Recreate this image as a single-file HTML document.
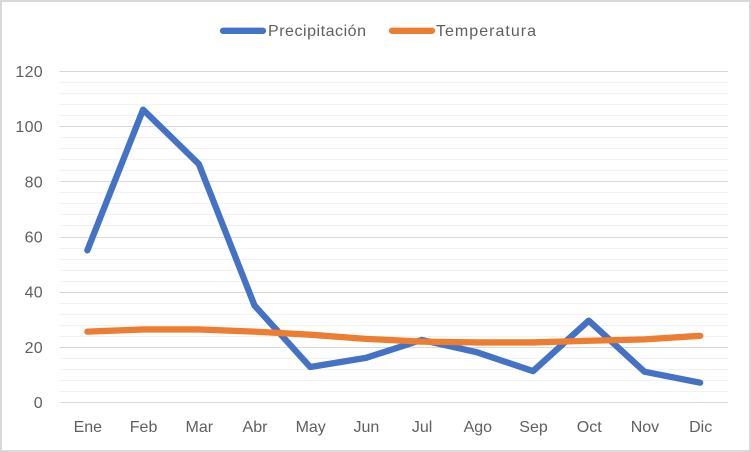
<!DOCTYPE html>
<html lang="es">
<head>
<meta charset="utf-8">
<title>Precipitación y Temperatura</title>
<style>
html,body{margin:0;padding:0;background:#fff;}
body{width:751px;height:452px;overflow:hidden;}
svg{display:block;}
text{font-family:"Liberation Sans",sans-serif;fill:#5f5f5f;font-size:16px;}
</style>
</head>
<body>
<svg id="chart" width="751" height="452" viewBox="0 0 751 452" xmlns="http://www.w3.org/2000/svg"></svg>
<script>
const categories = ["Ene","Feb","Mar","Abr","May","Jun","Jul","Ago","Sep","Oct","Nov","Dic"];
const precipitacion = [55,106,86.3,35,12.7,16,22.5,18,11.2,29.5,11,7];
const temperatura = [25.5,26.3,26.3,25.5,24.4,22.9,21.9,21.6,21.6,22.2,22.7,24];
const yTicks = [0,20,40,60,80,100,120];
const yMinorTicks = [4,8,12,16,24,28,32,36,44,48,52,56,64,68,72,76,84,88,92,96,104,108,112,116];

const NS = "http://www.w3.org/2000/svg";
const svg = document.getElementById("chart");
const plotLeft = 59.5, plotRight = 728, plotTop = 71, plotBottom = 402, yMax = 120;
const xScale = i => plotLeft + (i + 0.5) * (plotRight - plotLeft) / categories.length;
const yScale = v => plotBottom - (v / yMax) * (plotBottom - plotTop);

function make(tag, attrs, parent) {
  const el = document.createElementNS(NS, tag);
  for (const k in attrs) el.setAttribute(k, attrs[k]);
  (parent || svg).appendChild(el);
  return el;
}

const frame = make("rect", {x:1, y:1, width:749, height:450, fill:"#ffffff", stroke:"#d9d9d9", "stroke-width":2});



yMinorTicks.forEach(t => {
  const y = Math.round(yScale(t)) + 0.5;
  const g = make("line", {x1:plotLeft, x2:plotRight, y1:y, y2:y, stroke:"#f2f2f2", "stroke-width":1});
  
  
});
yTicks.forEach(t => {
  const y = Math.round(yScale(t)) + 0.5;
  const g = make("line", {x1:plotLeft, x2:plotRight, y1:y, y2:y, stroke:"#d9d9d9", "stroke-width":1});
  
  
  const l = make("text", {x:43, y:yScale(t) + 6, "text-anchor":"end", "letter-spacing":"0.3"});
  l.textContent = t;
  
  
});
categories.forEach((c, i) => {
  const l = make("text", {x:xScale(i) + 0.5, y:432, "text-anchor":"middle"});
  l.textContent = c;
  
  
});

function drawSeries(values, color, name) {
  const pts = values.map((v, i) => xScale(i) + "," + yScale(v)).join(" ");
  const p = make("polyline", {points:pts, fill:"none", stroke:color, "stroke-width":6.3, "stroke-linecap":"round", "stroke-linejoin":"round"});
  
  
}
drawSeries(precipitacion, "#4472c4", "precipitacion-line");
drawSeries(temperatura, "#ed7d31", "temperatura-line");

function legendEntry(x1, x2, tx, tw, color, label, name) {
  const k = make("line", {x1:x1, x2:x2, y1:30.8, y2:30.8, stroke:color, "stroke-width":6.3, "stroke-linecap":"round"});
  
  
  const t = make("text", {x:tx, y:36, textLength:tw, lengthAdjust:"spacing"});
  t.textContent = label;
  
  
}
legendEntry(223, 263, 268, 98, "#4472c4", "Precipitación", "precipitacion");
legendEntry(392, 432, 436, 100, "#ed7d31", "Temperatura", "temperatura");
</script>
</body>
</html>
